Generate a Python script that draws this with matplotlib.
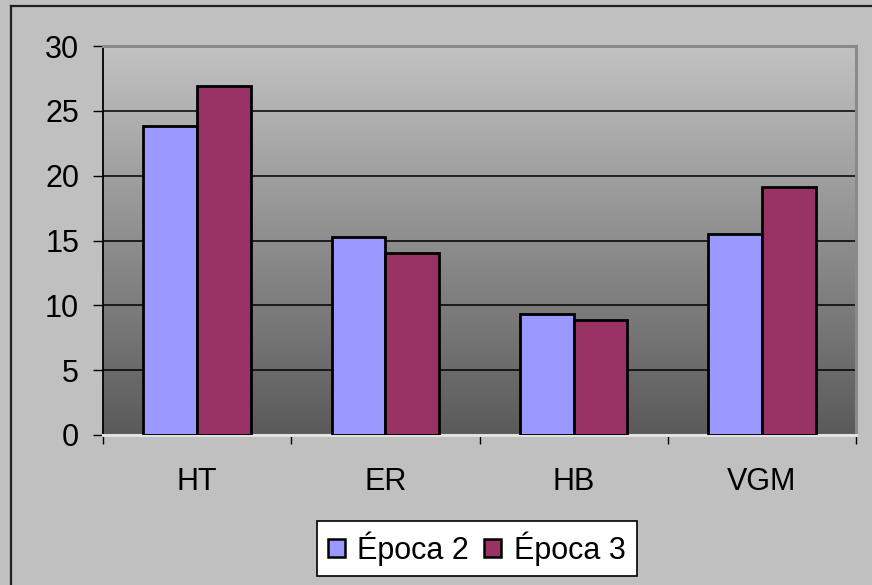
import numpy as np
import matplotlib
matplotlib.use("Agg")
import matplotlib.pyplot as plt
from matplotlib.colors import LinearSegmentedColormap
from matplotlib.patches import Patch
from matplotlib.lines import Line2D

categories = ["HT", "ER", "HB", "VGM"]
epoca2 = [23.8, 15.3, 9.3, 15.5]
epoca3 = [26.9, 14.0, 8.9, 19.1]
series_labels = ["Época 2", "Época 3"]
y_ticks = [0, 5, 10, 15, 20, 25, 30]

plt.rcParams["font.family"] = ["Liberation Sans", "DejaVu Sans"]

W, H = 872, 585
fig = plt.figure(figsize=(W / 100, H / 100), dpi=100, facecolor="#C0C0C0")

# outer chart border (top and left edges visible)
fig.add_artist(Line2D([10.5 / W, 1.0], [1 - 5.5 / H, 1 - 5.5 / H], color="#202020", lw=1.6,
                      transform=fig.transFigure))
fig.add_artist(Line2D([10.5 / W, 10.5 / W], [0.0, 1 - 5.5 / H], color="#202020", lw=1.6,
                      transform=fig.transFigure))

left, right, top, bottom = 103, 856, 46, 435
ax = fig.add_axes([left / W, 1 - bottom / H, (right - left) / W, (bottom - top) / H])
ax.set_facecolor("none")

# vertical gray gradient in the plot area
cmap = LinearSegmentedColormap.from_list("plotbg", ["#5A5A5A", "#C2C2C2"])
grad = np.linspace(0, 1, 256).reshape(-1, 1)
ax.imshow(grad, extent=[0, 1, 0, 1], transform=ax.transAxes, aspect="auto",
          cmap=cmap, origin="lower", zorder=0)

x = np.arange(len(categories))
w = 1 / 3.5
ax.bar(x - w / 2, epoca2, w, color="#9999FF", edgecolor="black", linewidth=2, zorder=3)
ax.bar(x + w / 2, epoca3, w, color="#993366", edgecolor="black", linewidth=2, zorder=3)

ax.set_xlim(-0.5, len(categories) - 0.5)
ax.set_ylim(0, 30)

for v in y_ticks[1:-1]:
    ax.axhline(v, color="black", lw=1.1, zorder=1)

ax.set_yticks(y_ticks)
ax.set_yticklabels([str(v) for v in y_ticks])
ax.tick_params(axis="y", direction="out", length=7.2, width=1.0, color="black",
               labelsize=22, pad=10)

ax.set_xticks(np.arange(-0.5, len(categories)), minor=False)
ax.set_xticklabels([])
ax.set_xticks(x, minor=True)
ax.set_xticklabels(categories, minor=True)
ax.tick_params(axis="x", which="major", direction="out", length=6.5, width=1.0, color="black")
ax.tick_params(axis="x", which="minor", length=0, labelsize=22, pad=23)

ax.spines["left"].set_color("black")
ax.spines["left"].set_linewidth(1.3)
ax.spines["top"].set_color("#8A8A8A")
ax.spines["top"].set_linewidth(2.2)
ax.spines["right"].set_color("#8A8A8A")
ax.spines["right"].set_linewidth(2.2)
ax.spines["bottom"].set_color("#E2E2E2")
ax.spines["bottom"].set_linewidth(2.2)

handles = [Patch(facecolor="#9999FF", edgecolor="black", linewidth=1.8),
           Patch(facecolor="#993366", edgecolor="black", linewidth=1.8)]
leg = fig.legend(handles, series_labels, loc="center",
                 bbox_to_anchor=((315.7 + 638) / 2 / W, 1 - (518 + 579) / 2 / H),
                 ncol=2, fontsize=22, frameon=True, fancybox=False,
                 handlelength=0.55, handleheight=0.55, handletextpad=0.42,
                 columnspacing=0.5, borderpad=0.35, borderaxespad=0)
leg.get_frame().set_facecolor("white")
leg.get_frame().set_edgecolor("black")
leg.get_frame().set_linewidth(1.2)
leg.get_frame().set_alpha(1)

fig.savefig("out.png", dpi=100, facecolor=fig.get_facecolor())
